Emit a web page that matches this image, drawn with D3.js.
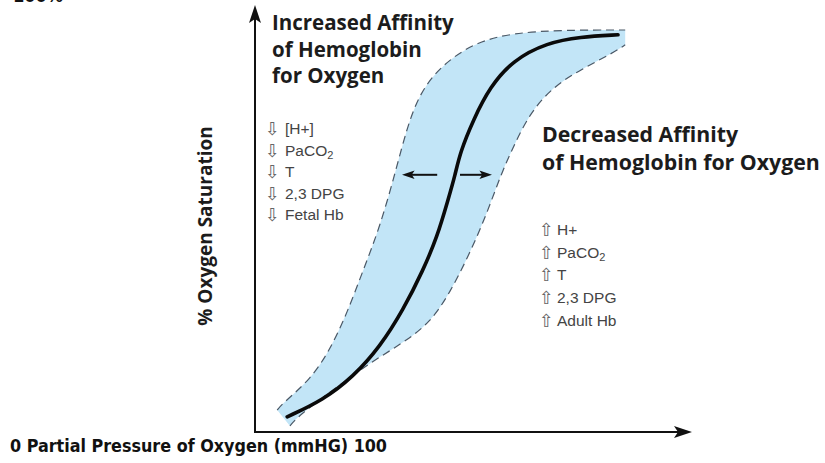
<!DOCTYPE html>
<html>
<head>
<meta charset="utf-8">
<script src="https://cdn.jsdelivr.net/npm/d3@7"></script>
<style>
  body { margin: 0; background: #fff; }
  svg { display: block; }
</style>
</head>
<body>
<svg id="chart"></svg>
<script>
var width = 825;
var height = 463;

// [partial pressure, % saturation]
var normalCurve = [[7.8,3.8],[16.8,8],[24.3,13.8],[31,21.3],[36.8,30.5],[41.8,40.5],[45.3,48.8],[48,58],[49.8,64.3],[51,69.8],[54.3,78],[58.5,86.3],[64.3,93],[72.8,97.3],[81,98.8],[90.5,99.3]];
var leftEdge = [[5.3,5.5],[6.8,7.3],[13.5,13],[18.5,20.5],[22.8,29.8],[26.8,40.5],[31,51.3],[35,65.5],[37.8,76.3],[41,84.8],[46,91.3],[54.3,97.3],[64.3,99.8],[76.8,100.5],[92.3,100.5]];
var rightEdge = [[8.5,1.5],[10.3,3.8],[20.3,11.3],[28.5,17.3],[36.8,22.3],[43.5,27.3],[48.5,34.8],[53.5,44.8],[57.8,54.8],[61,63.8],[64.3,71.3],[68.5,79.8],[74.3,86.3],[81,90.5],[89.3,94.8],[92.3,96.8]];

var shiftLevel = 64.3;
var shiftArrows = [[45.3, 36.5], [51, 59]];

var leftTitle = ['Increased Affinity', 'of Hemoglobin', 'for Oxygen'];
var rightTitle = ['Decreased Affinity', 'of Hemoglobin for Oxygen'];
var leftFactors = ['[H+]', 'PaCO2', 'T', '2,3 DPG', 'Fetal Hb'];
var rightFactors = ['H+', 'PaCO2', 'T', '2,3 DPG', 'Adult Hb'];

var yLabel = '% Oxygen Saturation';
var xLabel = '0 Partial Pressure of Oxygen (mmHG) 100';
var topLabel = '100%';

var svg = d3.select('#chart')
  .attr('width', width)
  .attr('height', height);

var x = d3.scaleLinear().domain([0, 100]).range([256, 656]);
var y = d3.scaleLinear().domain([0, 100]).range([432, 32]);

var line = d3.line()
  .x(function(d) { return x(d[0]); })
  .y(function(d) { return y(d[1]); })
  .curve(d3.curveBasis);

// blue band between the two shifted curves
var bandPath = line(leftEdge) + 'L' + line(rightEdge.slice().reverse()).slice(1) + 'Z';
svg.append('path')
  .attr('d', bandPath)
  .attr('fill', '#c2e5f7')
  .attr('stroke', 'none');

[leftEdge, rightEdge].forEach(function(edge) {
  svg.append('path')
    .attr('d', line(edge))
    .attr('fill', 'none')
    .attr('stroke', '#4a5866')
    .attr('stroke-width', 1.2)
    .attr('stroke-dasharray', '8,5');
});

svg.append('path')
  .attr('d', line(normalCurve))
  .attr('fill', 'none')
  .attr('stroke', '#0a0a0a')
  .attr('stroke-width', 3.6)
  .attr('stroke-linecap', 'round');

// arrowheads
function arrowHead(tx, ty, angle, size) {
  var s = size || 1;
  svg.append('path')
    .attr('d', 'M0,0 L' + (-18 * s) + ',' + (-6 * s) + ' L' + (-14 * s) + ',0 L' + (-18 * s) + ',' + (6 * s) + ' Z')
    .attr('transform', 'translate(' + tx + ',' + ty + ') rotate(' + angle + ')')
    .attr('fill', '#111');
}

// axes
var x0 = 255, yAxisTop = 5, xAxisRight = 692;
svg.append('line')
  .attr('x1', x0).attr('y1', y(0))
  .attr('x2', x0).attr('y2', yAxisTop + 10)
  .attr('stroke', '#111').attr('stroke-width', 2);
arrowHead(x0, yAxisTop, -90);
svg.append('line')
  .attr('x1', x0 - 1).attr('y1', y(0))
  .attr('x2', xAxisRight - 10).attr('y2', y(0))
  .attr('stroke', '#111').attr('stroke-width', 2);
arrowHead(xAxisRight, y(0), 0);

// left / right shift arrows
shiftArrows.forEach(function(a) {
  var dir = a[1] > a[0] ? 1 : -1;
  svg.append('line')
    .attr('x1', x(a[0])).attr('y1', y(shiftLevel))
    .attr('x2', x(a[1]) - dir * 8).attr('y2', y(shiftLevel))
    .attr('stroke', '#111').attr('stroke-width', 2);
  arrowHead(x(a[1]), y(shiftLevel), dir > 0 ? 0 : 180, 0.7);
});

var titleFont = '"Open Sans", Lato, sans-serif';
var listFont = '"Liberation Sans", Arial, sans-serif';

function titleBlock(lines, tx, ty, step, size) {
  svg.append('g').selectAll('text')
    .data(lines)
    .join('text')
    .attr('x', tx)
    .attr('y', function(d, i) { return ty + i * step; })
    .attr('font-family', titleFont)
    .attr('font-weight', 'bold')
    .attr('font-size', size)
    .attr('fill', '#1c1c1c')
    .text(function(d) { return d; });
}

titleBlock(leftTitle, 272, 30, 26.5, 20.5);
titleBlock(rightTitle, 542, 142, 28, 21.3);

function factorList(items, arrow, tx, ty, step, gap) {
  var g = svg.append('g');
  items.forEach(function(d, i) {
    var yy = ty + i * step;
    g.append('text')
      .attr('x', tx)
      .attr('y', yy + 1)
      .attr('font-family', '"DejaVu Sans", sans-serif')
      .attr('font-size', 18)
      .attr('fill', '#666')
      .text(arrow);
    var el = g.append('text')
      .attr('x', tx + gap)
      .attr('y', yy)
      .attr('font-family', listFont)
      .attr('font-size', 15.5)
      .attr('fill', '#444');
    var m = d.match(/^(.*CO)2$/);
    if (m) {
      el.append('tspan').text(m[1]);
      el.append('tspan').attr('font-size', 11).attr('dy', 3).text('2');
    } else {
      el.text(d);
    }
  });
}

factorList(leftFactors, '\u21E9', 265, 134, 21.5, 20);
factorList(rightFactors, '\u21E7', 539, 235, 22.7, 18);

// axis labels
svg.append('text')
  .attr('transform', 'translate(212,' + 226 + ') rotate(-90)')
  .attr('text-anchor', 'middle')
  .attr('font-family', titleFont)
  .attr('font-weight', 'bold')
  .attr('font-size', 19)
  .attr('fill', '#1c1c1c')
  .text(yLabel);

svg.append('text')
  .attr('x', 10)
  .attr('y', 452)
  .attr('font-family', '"Liberation Sans Narrow", "DejaVu Sans Condensed", sans-serif')
  .attr('font-weight', 'bold')
  .attr('font-size', 18)
  .attr('textLength', 377)
  .attr('lengthAdjust', 'spacingAndGlyphs')
  .attr('fill', '#111')
  .text(xLabel);

svg.append('text')
  .attr('x', 13)
  .attr('y', 2)
  .attr('font-family', '"Liberation Sans Narrow", "DejaVu Sans Condensed", sans-serif')
  .attr('font-weight', 'bold')
  .attr('font-size', 18)
  .attr('fill', '#111')
  .text(topLabel);
</script>
</body>
</html>
